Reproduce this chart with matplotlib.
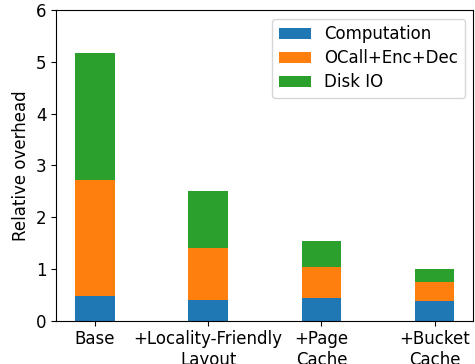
import matplotlib
matplotlib.use("Agg")
import matplotlib.pyplot as plt
import numpy as np

categories = ["Base", "+Locality-Friendly\nLayout", "+Page\nCache", "+Bucket\nCache"]
computation = [0.48, 0.40, 0.43, 0.38]
ocall_enc_dec = [2.24, 1.00, 0.61, 0.36]
disk_io = [2.45, 1.11, 0.50, 0.26]

fig = plt.figure(figsize=(4.75, 3.64), dpi=100)
ax = fig.add_axes([0.1185, 0.119, 0.878, 0.8527])

x = np.arange(len(categories))
w = 0.35
comp = np.array(computation)
oed = np.array(ocall_enc_dec)
dio = np.array(disk_io)
ax.bar(x, comp, w, label="Computation", color="#1f77b4")
ax.bar(x, oed, w, bottom=comp, label="OCall+Enc+Dec", color="#ff7f0e")
ax.bar(x, dio, w, bottom=comp + oed, label="Disk IO", color="#2ca02c")

ax.set_ylim(0, 6)
ax.set_xticks(x)
ax.set_xticklabels(categories, fontsize=12)
ax.tick_params(axis="y", labelsize=12)
ax.set_ylabel("Relative overhead", fontsize=12)
ax.legend(loc="upper right", fontsize=12, labelspacing=0.36,
          handleheight=0.6, handlelength=1.95)

fig.savefig("out.png", dpi=100)
